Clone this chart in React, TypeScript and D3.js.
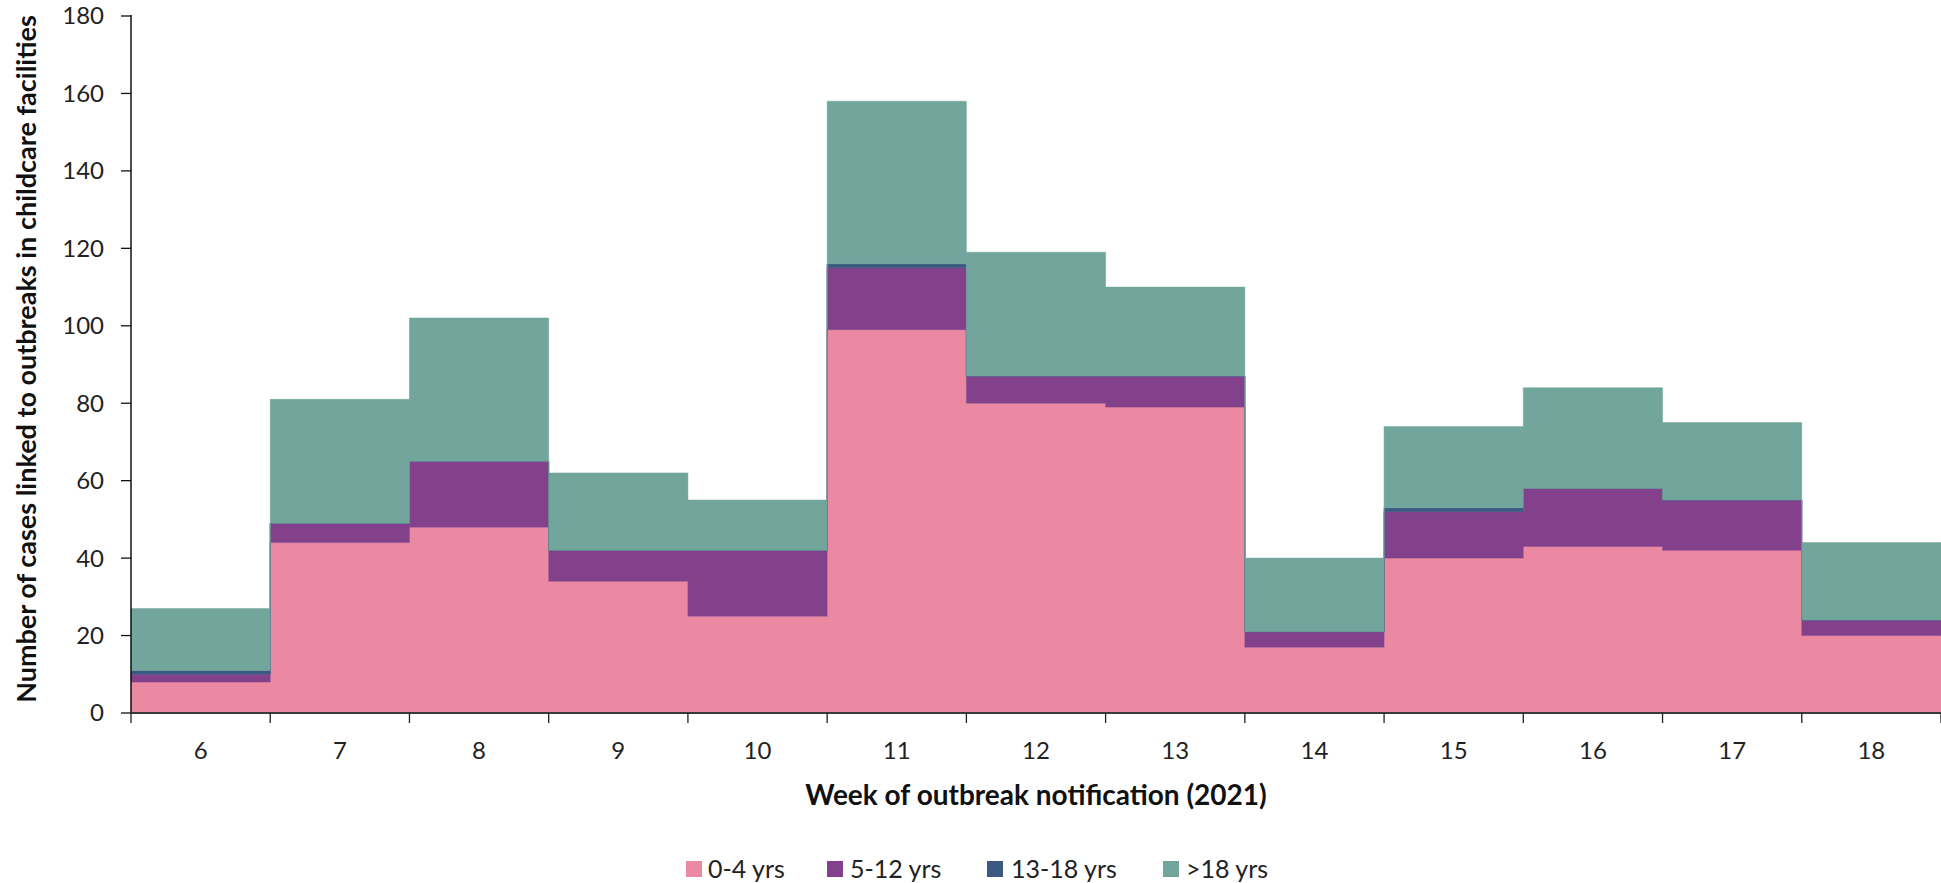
import React from "react";
import * as d3 from "d3";

const weeks = ["6", "7", "8", "9", "10", "11", "12", "13", "14", "15", "16", "17", "18"];
const age0to4 = [8, 44, 48, 34, 25, 99, 80, 79, 17, 40, 43, 42, 20];
const age5to12 = [2, 5, 17, 8, 17, 16, 7, 8, 4, 12, 15, 13, 4];
const age13to18 = [1, 0, 0, 0, 0, 1, 0, 0, 0, 1, 0, 0, 0];
const ageOver18 = [16, 32, 37, 20, 13, 42, 32, 23, 19, 21, 26, 20, 20];
const seriesNames = ["0-4 yrs", "5-12 yrs", "13-18 yrs", ">18 yrs"];
const seriesColors = ["#EC89A2", "#83418B", "#3B5A82", "#72A59B"];
const yTicks = [0, 20, 40, 60, 80, 100, 120, 140, 160, 180];

const W = 1941;
const H = 883;
const X0 = 131;
const X1 = 1941;
const Y0 = 713;
const Y1 = 16;
const FONT = "Lato, 'Open Sans', sans-serif";

export default function App() {
  const seriesVals = [age0to4, age5to12, age13to18, ageOver18];
  const table = weeks.map((w, i) => {
    const row: any = { week: w };
    seriesNames.forEach((s, k) => (row[s] = seriesVals[k][i]));
    return row;
  });
  const stacked = d3.stack<any>().keys(seriesNames)(table);

  const x = d3.scaleBand<string>().domain(weeks).range([X0, X1]).paddingInner(0).paddingOuter(0);
  const y = d3.scaleLinear().domain([0, 180]).range([Y0, Y1]);
  const bw = x.bandwidth();

  const area = d3
    .area<{ x: number; y0: number; y1: number }>()
    .x((d) => d.x)
    .y0((d) => y(d.y0))
    .y1((d) => y(d.y1))
    .curve(d3.curveStepAfter);

  const paths = stacked.map((layer) => {
    const pts = layer.map((d, i) => ({ x: x(weeks[i]) as number, y0: d[0], y1: d[1] }));
    const last = layer[layer.length - 1];
    pts.push({ x: (x(weeks[weeks.length - 1]) as number) + bw, y0: last[0], y1: last[1] });
    return area(pts) as string;
  });

  const boundaries = weeks.map((w) => x(w) as number).concat([(x(weeks[weeks.length - 1]) as number) + bw]);

  const legendItems = [
    { sq: 686, tx: 708 },
    { sq: 827, tx: 850 },
    { sq: 987, tx: 1011 },
    { sq: 1163, tx: 1186 },
  ];
  const legendY = 869;

  return (
    <svg width={W} height={H} style={{ position: "absolute", left: 0, top: 0, display: "block", background: "#fff" }}>
      <rect x={0} y={0} width={W} height={H} fill="#fff" />
      {paths.map((p, i) => (
        <path key={i} d={p} fill={seriesColors[i]} stroke={seriesColors[i]} strokeWidth={0.5} />
      ))}
      {/* y axis */}
      <line x1={X0} x2={X0} y1={Y1 - 1} y2={Y0} stroke="#111" strokeWidth={1.5} />
      {yTicks.map((t) => (
        <g key={t}>
          <line x1={X0 - 10} x2={X0} y1={y(t)} y2={y(t)} stroke="#111" strokeWidth={1.3} />
          <text x={104} y={y(t)} dy="0.35em" textAnchor="end" fontFamily={FONT} fontSize={24} fill="#222">
            {t}
          </text>
        </g>
      ))}
      {/* x axis */}
      <line x1={X0} x2={X1} y1={Y0} y2={Y0} stroke="#3a3a3a" strokeWidth={1.8} />
      {boundaries.map((b, i) => (
        <line key={i} x1={b} x2={b} y1={Y0} y2={Y0 + 10} stroke="#222" strokeWidth={1.3} />
      ))}
      {weeks.map((w) => (
        <text key={w} x={(x(w) as number) + bw / 2} y={751} dy="0.35em" textAnchor="middle" fontFamily={FONT} fontSize={24} fill="#222">
          {w}
        </text>
      ))}
      <text x={(X0 + X1) / 2} y={795} dy="0.35em" textAnchor="middle" fontFamily={FONT} fontWeight="bold" fontSize={28} fill="#111">
        Week of outbreak notification (2021)
      </text>
      <text
        transform={`translate(27, 359) rotate(-90)`}
        dy="0.35em"
        textAnchor="middle"
        fontFamily={FONT}
        fontWeight="bold"
        fontSize={27}
        fill="#111"
      >
        Number of cases linked to outbreaks in childcare facilities
      </text>
      {seriesNames.map((s, i) => (
        <g key={s}>
          <rect x={legendItems[i].sq} y={legendY - 8} width={16} height={16} fill={seriesColors[i]} />
          <text x={legendItems[i].tx} y={legendY} dy="0.35em" fontFamily={FONT} fontSize={25} fill="#222">
            {s}
          </text>
        </g>
      ))}
    </svg>
  );
}
